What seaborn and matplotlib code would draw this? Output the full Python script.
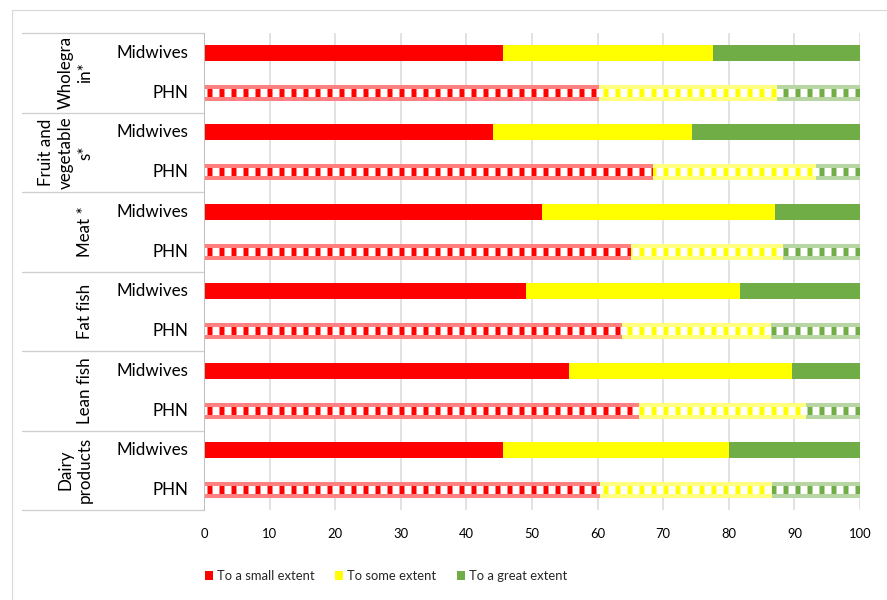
import matplotlib
matplotlib.use("Agg")
import matplotlib.pyplot as plt
import matplotlib.transforms as mtransforms
import matplotlib.colors as mcolors
from matplotlib.patches import Patch, Rectangle
from matplotlib.lines import Line2D
import seaborn as sns
import pandas as pd

sns.set_style("white")
plt.rcParams["font.family"] = ["Lato", "DejaVu Sans"]
plt.rcParams["hatch.linewidth"] = 5.0

# ---------------- data ----------------
categories = ["Wholegrain*", "Fruit and vegetables*", "Meat *", "Fat fish", "Lean fish", "Dairy products"]
category_labels = ["Wholegra\nin*", "Fruit and\nvegetable\ns*", "Meat *", "Fat fish", "Lean fish", "Dairy\nproducts"]
groups = ["Midwives", "PHN"]

small_mid = [45.6, 44.0, 51.6, 49.1, 55.6, 45.6]
some_mid = [32.0, 30.4, 35.5, 32.6, 34.0, 34.5]
great_mid = [22.4, 25.6, 12.9, 18.3, 10.4, 19.9]

small_phn = [60.2, 68.4, 65.1, 63.7, 66.3, 60.3]
some_phn = [27.1, 24.9, 23.2, 22.7, 25.4, 26.3]
great_phn = [12.7, 6.7, 11.7, 13.6, 8.3, 13.4]

legend_labels = ["To a small extent", "To some extent", "To a great extent"]
x_ticks = [0, 10, 20, 30, 40, 50, 60, 70, 80, 90, 100]

# ---------------- styles ----------------
RED, YELLOW, GREEN = "#FF0000", "#FFFF00", "#70AD47"
palette = [RED, YELLOW, GREEN]


def tint(c, f=0.5):
    r, g, b = mcolors.to_rgb(c)
    return (r + (1 - r) * f, g + (1 - g) * f, b + (1 - b) * f)


records = []
for i, cat in enumerate(categories):
    records.append(dict(row=f"{cat} | Midwives", group="Midwives",
                        small=small_mid[i], some=some_mid[i], great=great_mid[i]))
    records.append(dict(row=f"{cat} | PHN", group="PHN",
                        small=small_phn[i], some=some_phn[i], great=great_phn[i]))
df = pd.DataFrame(records)
df["end_small"] = df["small"]
df["end_some"] = df["small"] + df["some"]
df["end_great"] = df["small"] + df["some"] + df["great"]
row_order = list(df["row"])

W, H = 887, 600
fig = plt.figure(figsize=(W / 72, H / 72), dpi=72)
ax_l, ax_r, ax_t, ax_b = 204, 860, 33, 510
ax = fig.add_axes([ax_l / W, 1 - ax_b / H, (ax_r - ax_l) / W, (ax_b - ax_t) / H])

bar_h = 0.4
band = 0.1
for col, color in [("end_great", GREEN), ("end_some", YELLOW), ("end_small", RED)]:
    n0 = len(ax.patches)
    sns.barplot(data=df, x=col, y="row", order=row_order, color=color, saturation=1,
                width=bar_h, errorbar=None, orient="h", ax=ax)
    new = list(ax.patches[n0:])
    for p in new:
        p.set_linewidth(0)
        idx = int(round(p.get_y() + p.get_height() / 2))
        if records[idx]["group"] == "PHN":
            p.set_facecolor("white")
            p.set_edgecolor(color)
            p.set_hatch("|")
            x0, y0, w, h = p.get_x(), p.get_y(), p.get_width(), p.get_height()
            for yy in (y0, y0 + h - band):
                ax.add_patch(Rectangle((x0, yy), w, band, facecolor=tint(color, 0.5),
                                       edgecolor="none", lw=0))

ax.set_xlim(0, 100)
ax.set_ylim(len(row_order) - 0.5, -0.5)
ax.set_xticks(x_ticks)
ax.set_xticklabels([str(t) for t in x_ticks])
ax.set_xlabel("")
ax.set_ylabel("")
ax.tick_params(axis="x", length=0, pad=18, labelsize=13, labelcolor="black")
ax.tick_params(axis="y", left=False, labelleft=False)
ax.set_axisbelow(True)
ax.xaxis.grid(True, color="#d9d9d9", lw=1.5)
ax.yaxis.grid(False)
for s in ["top", "right", "bottom"]:
    ax.spines[s].set_visible(False)
ax.spines["left"].set_color("#bfbfbf")
ax.spines["left"].set_linewidth(1.0)

trans = mtransforms.blended_transform_factory(ax.transAxes, ax.transData)
axw = ax_r - ax_l
for idx, rec in enumerate(records):
    ax.text(-16 / axw, idx, rec["group"], transform=trans, ha="right", va="center",
            fontsize=17, color="black")

for i, lab in enumerate(category_labels):
    ax.text((93 - ax_l) / axw, 2 * i + 0.5, lab, transform=trans, rotation=90,
            ha="right", va="center", multialignment="center", fontsize=17,
            linespacing=1.25, color="black")

for k in range(len(categories) + 1):
    ax.plot([(22 - ax_l) / axw, 0], [2 * k - 0.5, 2 * k - 0.5], transform=trans,
            color="#cfcfcf", lw=1.3, clip_on=False)

handles = [Patch(facecolor=c, edgecolor="none") for c in palette]
fig.legend(handles, legend_labels, loc="center", bbox_to_anchor=(386 / W, 1 - 576 / H),
           ncol=3, frameon=False, fontsize=13, handlelength=0.62, handleheight=0.62,
           handletextpad=0.3, columnspacing=1.6)

fig.add_artist(Line2D([12 / W, 1], [1 - 10 / H, 1 - 10 / H], transform=fig.transFigure,
                      color="#d9d9d9", lw=1.2))
fig.add_artist(Line2D([12 / W, 12 / W], [0, 1 - 10 / H], transform=fig.transFigure,
                      color="#d9d9d9", lw=1.2))

fig.savefig("out.png", dpi=72, facecolor="white")
